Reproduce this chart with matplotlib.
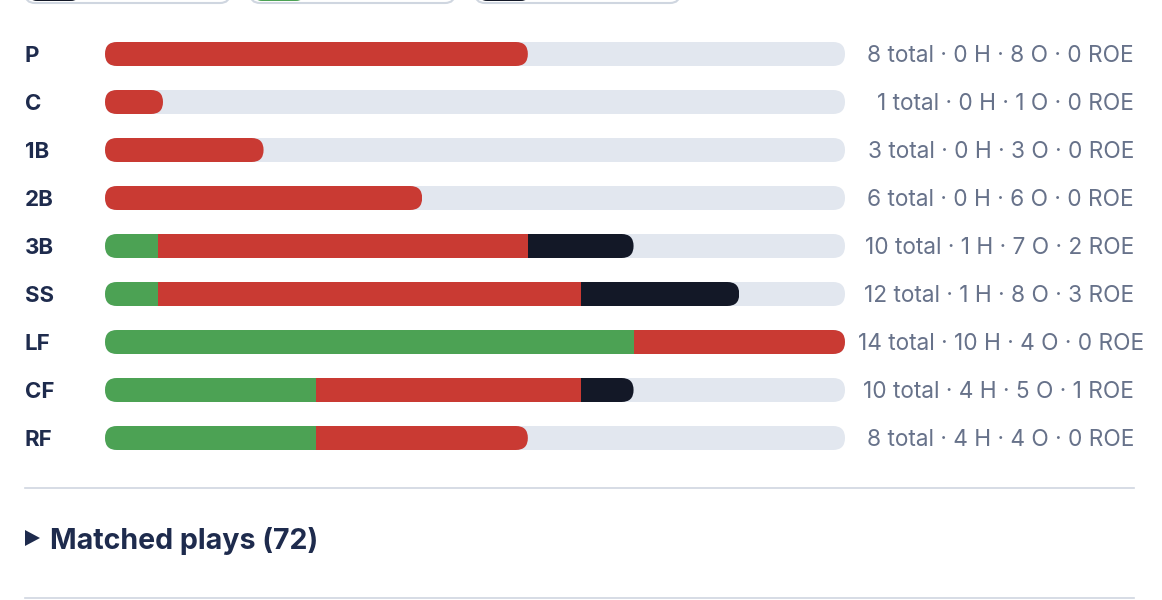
import matplotlib
matplotlib.use("Agg")
import matplotlib.pyplot as plt
import matplotlib.patches as mpatches
from matplotlib.transforms import blended_transform_factory
import numpy as np

# data
positions = ["P", "C", "1B", "2B", "3B", "SS", "LF", "CF", "RF"]
hits = [0, 0, 0, 0, 1, 1, 10, 4, 4]
outs = [8, 1, 3, 6, 7, 8, 4, 5, 4]
roe = [0, 0, 0, 0, 2, 3, 0, 1, 0]
matched_plays = 72

GREEN = "#4ca254"
RED = "#c93a33"
DARK = "#131827"
TRACK = "#e2e7ef"
NAVY = "#1e2b4d"
GREY = "#67728a"
LINE = "#cfd6e0"

plt.rcParams["font.family"] = ["Inter", "DejaVu Sans"]

W, H = 1162, 600
fig = plt.figure(figsize=(W / 100, H / 100), dpi=100)
fig.patch.set_facecolor("white")

# overlay in pixel coords for decorations
deco = fig.add_axes([0, 0, 1, 1])
deco.set_xlim(0, W)
deco.set_ylim(H, 0)
deco.axis("off")

n = len(positions)
totals = [h + o + r for h, o, r in zip(hits, outs, roe)]
xmax = max(totals)

# bar axes: track from 105px to 845px, rows 48px apart
ax = fig.add_axes([105 / W, (H - 462) / H, 740 / W, 432 / H])
ax.set_xlim(0, xmax)
ax.set_ylim(n - 0.5, -0.5)
ax.axis("off")

px_x = 740 / xmax
px_y = 48.0
bar_h = 0.5
rad = 12 / px_x * 0.999
asp = (12 / px_y) / (12 / px_x)
min_w = 58 / px_x  # short pills never drawn narrower than this

y = np.arange(n)
for i in range(n):
    ax.add_patch(mpatches.FancyBboxPatch(
        (0, i - bar_h / 2), xmax, bar_h,
        boxstyle=f"round,pad=0,rounding_size={rad}", mutation_aspect=asp,
        facecolor=TRACK, edgecolor="none", zorder=1))

clips = [mpatches.FancyBboxPatch(
    (0, i - bar_h / 2), max(totals[i], min_w), bar_h,
    boxstyle=f"round,pad=0,rounding_size={rad}", mutation_aspect=asp,
    transform=ax.transData) for i in range(n)]

left = np.zeros(n)
for vals, col in [(hits, GREEN), (outs, RED), (roe, DARK)]:
    # stretch the last segment of a short row up to the min width
    w = np.array(vals, dtype=float)
    for i in range(n):
        if totals[i] < min_w and w[i] > 0 and left[i] + w[i] == totals[i]:
            w[i] = min_w - left[i]
    bars = ax.barh(y, w, left=left, height=bar_h, color=col, linewidth=0, zorder=2)
    for i, b in enumerate(bars):
        b.set_clip_path(clips[i])
    left += np.array(vals)

# labels
tr = blended_transform_factory(fig.transFigure, ax.transData)
for i, p in enumerate(positions):
    ax.text(25 / W, i, p, transform=tr, ha="left", va="center_baseline",
            fontsize=16, fontweight="bold", color=NAVY)

col_left, col_right = 858, 1134
fig.canvas.draw()
renderer = fig.canvas.get_renderer()
for i in range(n):
    s = f"{totals[i]} total · {hits[i]} H · {outs[i]} O · {roe[i]} ROE"
    t = ax.text(col_right / W, i, s, transform=tr, ha="right", va="center_baseline",
                fontsize=16.3, color=GREY)
    bb = t.get_window_extent(renderer)
    if bb.width > col_right - col_left:
        t.set_ha("left")
        t.set_x(col_left / W)

# legend chips cut off at top
for x0, c in [(25, DARK), (250, GREEN), (475, DARK)]:
    deco.add_patch(mpatches.FancyBboxPatch(
        (x0, -40), 205, 43, boxstyle="round,pad=0,rounding_size=10",
        facecolor="white", edgecolor=LINE, linewidth=1.5))
    deco.add_patch(mpatches.FancyBboxPatch(
        (x0 + 4, -40), 50, 41, boxstyle="round,pad=0,rounding_size=8",
        facecolor=c, edgecolor="none"))

# dividers
deco.plot([25, 1134], [488, 488], color=LINE, lw=1.2)
deco.plot([25, 1134], [598, 598], color=LINE, lw=1.2)

# matched plays heading
deco.add_patch(mpatches.Polygon([[25, 530], [25, 546], [40, 538]], closed=True,
                                facecolor=NAVY, edgecolor="none"))
deco.text(50, 538, f"Matched plays ({matched_plays})", ha="left", va="center_baseline",
          fontsize=20.6, fontweight="bold", color=NAVY)

fig.savefig("out.png", dpi=100, facecolor="white")
